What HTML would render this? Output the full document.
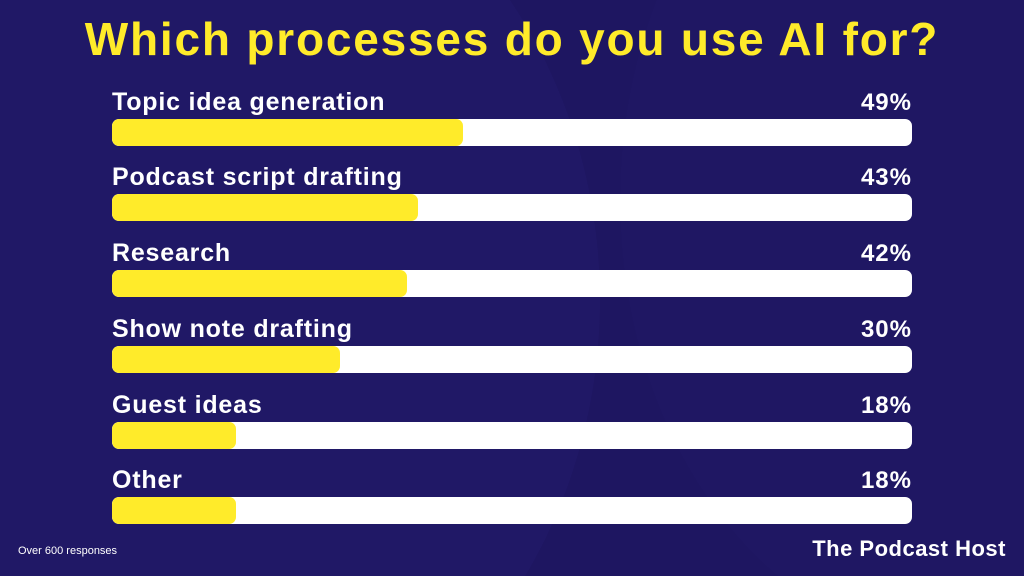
<!DOCTYPE html>
<html style="margin:0;width:1024px;height:576px;overflow:hidden"><head><meta charset="utf-8"><style>
body{margin:0;width:1024px;height:576px;overflow:hidden;background:#1e1661;font-family:"Liberation Sans",sans-serif;position:relative}
svg.bg{position:absolute;left:0;top:0}
.title{position:absolute;left:0;width:1024px;top:12px;text-align:center;color:#ffeb2a;font-size:46px;font-weight:bold;letter-spacing:1.8px}
.lab{position:absolute;left:112px;color:#fff;font-size:25px;font-weight:bold;letter-spacing:0.8px}
.pct{position:absolute;right:112px;color:#fff;font-size:24px;font-weight:bold;letter-spacing:1px}
.bar{position:absolute;left:112px;width:800px;height:27px;background:#fff;border-radius:7px;overflow:hidden}
.fill{height:100%;background:#ffeb2a;border-radius:7px}
.note{position:absolute;left:18px;top:545px;color:#fff;font-size:11px}
.logo{position:absolute;right:18px;top:536px;color:#fff;font-size:22px;font-weight:bold;letter-spacing:0.5px}
</style></head><body>
<svg class="bg" width="1024" height="576"><ellipse cx="150" cy="300" rx="450" ry="500" fill="#201866"/><ellipse cx="970" cy="200" rx="350" ry="450" fill="#1f1763"/></svg>
<div class="title">Which processes do you use AI for?</div>

<div class="lab" style="top:88px">Topic idea generation</div><div class="pct" style="top:89px">49%</div>
<div class="bar" style="top:119px"><div class="fill" style="width:351px"></div></div>

<div class="lab" style="top:163px">Podcast script drafting</div><div class="pct" style="top:164px">43%</div>
<div class="bar" style="top:194px"><div class="fill" style="width:306px"></div></div>

<div class="lab" style="top:239px">Research</div><div class="pct" style="top:240px">42%</div>
<div class="bar" style="top:270px"><div class="fill" style="width:295px"></div></div>

<div class="lab" style="top:315px">Show note drafting</div><div class="pct" style="top:316px">30%</div>
<div class="bar" style="top:346px"><div class="fill" style="width:228px"></div></div>

<div class="lab" style="top:391px">Guest ideas</div><div class="pct" style="top:392px">18%</div>
<div class="bar" style="top:422px"><div class="fill" style="width:124px"></div></div>

<div class="lab" style="top:466px">Other</div><div class="pct" style="top:467px">18%</div>
<div class="bar" style="top:497px"><div class="fill" style="width:124px"></div></div>

<div class="note">Over 600 responses</div>
<div class="logo">The Podcast Host</div>
</body></html>
